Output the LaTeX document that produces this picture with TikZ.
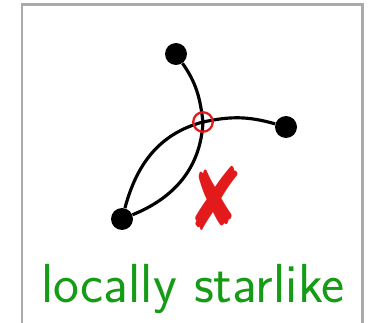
\documentclass[tikz,border=0pt]{standalone}
\usepackage{fontspec}
\newfontfamily\symfont{DejaVu Sans}
\definecolor{rahmen}{HTML}{AAAAAA}
\definecolor{falsch}{HTML}{E31A1C}
\definecolor{gruen}{HTML}{169B16}
\usetikzlibrary{calc, positioning}

\begin{document}
\begin{tikzpicture}[
  x=0.02cm, y=-0.02cm,
  vtx/.style={circle, fill=black, inner sep=0pt, minimum size=0.44cm},
  edge/.style={line width=1.8pt, black},
  cross/.style={circle, draw=falsch, line width=1.3pt, inner sep=0pt,
                minimum size=0.39cm},
]
\useasboundingbox (0,0) rectangle (368,323);
\begin{scope}
\clip (0,0) rectangle (368,323);
\draw[rahmen, line width=1.7pt] (22,5) rectangle (362,360);
\end{scope}

\coordinate (mid) at (203,122);
\node[vtx] (top) at (176,54) {};
\node[vtx] (rgt) at (286,127) {};
\node[vtx] (bot) at (122,219) {};

\draw[edge] (top) to[out=-55, in=97] (mid) to[out=-93, in=22] (bot);
\draw[edge] (bot) to[out=75, in=-165] (mid) to[out=12, in=164] (rgt);

\node[cross] (hit) at (mid) {};
\node[text=falsch, font=\symfont\fontsize{38}{40}\selectfont] (no) at (215,198)
  {\scalebox{1}[1.3]{✘}};

\node[anchor=base, text=gruen, font=\sffamily\fontsize{31.3}{33}\selectfont]
  (lbl) at (193,303) {locally starlike};
\end{tikzpicture}
\end{document}
